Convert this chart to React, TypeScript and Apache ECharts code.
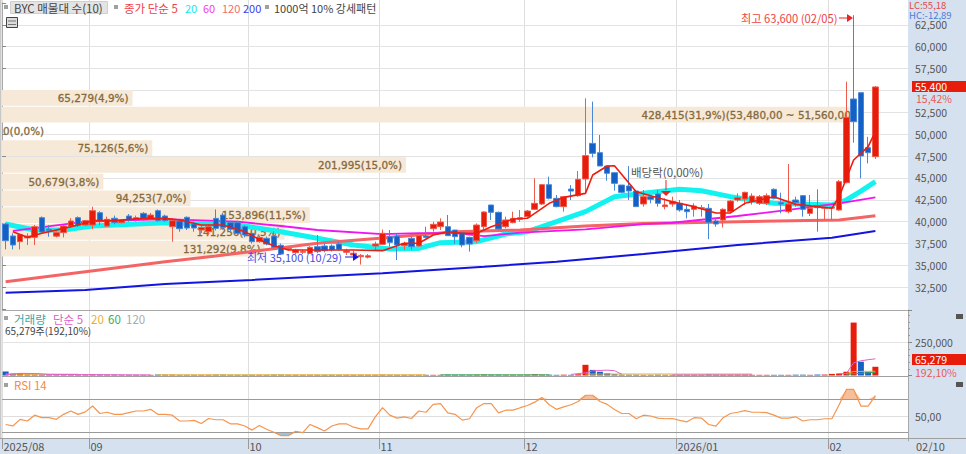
import React, { useEffect, useRef } from "react";
import * as echarts from "echarts";

const FONT = '"Noto Sans CJK KR", "Noto Sans", sans-serif';
const RED = "#e81c0a";
const BLUE = "#1560c4";
const PANEL = "#d6e1ef";

const candleOpen = [39740,38365,37720,38150,38210,40460,39150,38350,38750,39500,40460,39620,39620,41030,39500,40390,39890,40650,40270,40950,40380,41260,40650,39430,40080,40500,39740,39050,38860,40380,40760,39890,39890,39430,38670,37720,38100,38365,37300,36850,36460,36500,36384,37146,37220,37220,37450,36500,36200,36000,35950,37220,37410,38290,38365,37260,38100,37220,38365,39200,39430,39430,39050,38750,38210,37830,39430,41910,41070,39430,39890,40270,40575,41410,42020,44230,42670,41720,43730,42970,44880,48950,47890,46365,45600,44190,44080,43510,42023,42860,43166,41720,42020,42100,41413,41413,41500,41527,40079,40193,41146,42480,42595,42290,42100,42100,43698,42176,41146,42480,42975,40955,41832,41527,41550,41337,44461,54023,54747,48461,47432];
const candleClose = [37830,37340,38520,38350,39430,38820,39000,38750,39500,40080,39590,40120,41260,40000,40270,39890,40120,40200,40460,40380,40760,40120,40120,40120,39200,39280,39280,39350,39430,39240,39350,39130,38670,38480,37720,38210,37450,37070,36300,36950,36765,36600,37068,36574,36690,36770,36840,36650,36400,36150,36100,37450,38670,37640,37340,37530,37150,38400,38210,39700,39960,38400,38290,37340,37450,39620,41110,41070,39170,40195,40380,40460,41220,42100,44230,42670,41720,42860,43500,44840,47550,47813,46365,45530,44384,43355,43510,41720,42860,42555,42100,41910,42290,41340,41147,41793,41600,39927,39737,41413,42366,42747,43356,42937,42860,42975,42670,42023,42023,42176,41413,41527,41604,41642,41630,44575,51927,51432,47508,47889,55400];
const candleLow = [36840,36840,36840,37340,37340,38670,38290,38200,38210,39350,39400,39500,39130,39620,39400,39700,39800,40000,40000,40100,40200,40000,40000,37720,38860,39050,38860,38700,38500,39000,39100,38900,38500,38200,37500,37600,37300,36950,36200,36700,36300,36300,36300,36400,36500,36600,36700,36200,35800,35100,35800,36700,37340,37150,35620,36770,36770,37150,38100,38860,39050,38400,37450,37070,36580,37600,39050,40195,39050,39240,39810,40000,40380,41340,41910,42550,41640,41150,42480,42860,43240,47350,46365,44690,43545,43240,42480,41720,41720,42100,41720,41410,41720,41147,40380,40580,40580,38000,39430,39330,40960,42290,41910,41950,41910,41910,42550,40960,40960,41720,40580,40650,38860,40200,40200,41260,44380,49032,44950,46670,47170];
const candleHigh = [39900,38670,38600,38670,39620,40600,39620,38900,39620,40400,40600,40200,41720,41200,40575,40700,40300,40880,40700,41100,41000,41400,40800,40400,40200,40600,40000,39600,39700,41400,41000,40100,40100,39600,39000,38400,38300,38900,37500,37050,36900,36800,37200,38480,37500,37400,37700,36900,36700,36300,36300,37720,39100,39050,38670,37720,38290,38480,39430,40000,40380,40770,39050,38860,38290,39810,41180,41910,41150,40575,41150,41340,41340,44960,44310,45150,43050,42940,44190,45790,54100,53720,49910,46365,45600,44190,46360,43510,43620,43050,43620,42670,42860,42480,41910,42100,41910,42020,40380,41530,42480,43240,43430,43240,43050,43240,43810,43320,46590,42860,43050,43050,43700,41720,41720,44760,55998,63600,54747,49700,55500];

const ma5 = [[1,38860],[3,38210],[5,38670],[8,39240],[10,39620],[12,40120],[15,40120],[19,40380],[22,40380],[24,40190],[27,39620],[30,39620],[33,38860],[36,37530],[39,36765],[43,36770],[48,36770],[52,36690],[55,37530],[57,37530],[59,38480],[61,38860],[63,38670],[65,38670],[67,39430],[70,40310],[72,40390],[75,42100],[77,42780],[80,43240],[81,45340],[83,46370],[84,46400],[87,43430],[92,42285],[95,41720],[98,41000],[100,41000],[102,42100],[106,42860],[109,41980],[114,41530],[115,42860],[117,47050],[119,48570],[120,50290]];
const ma20 = [[0,39740],[4,39050],[8,39050],[12,39510],[22,39880],[32,39620],[38,38860],[43,38100],[48,37340],[53,36880],[57,36950],[60,37600],[65,37720],[69,38590],[72,38860],[76,40000],[80,41150],[84,42860],[88,43240],[93,43700],[96,43540],[100,42860],[106,42100],[114,41910],[116,42480],[118,43500],[120,44570]];
const ma60 = [[1,38940],[11,40000],[22,40300],[32,40000],[38,39510],[43,39050],[52,38590],[57,38700],[62,38700],[66,38360],[71,38740],[80,39130],[88,39730],[92,39880],[101,40650],[108,41340],[115,42100],[120,42780]];
const ma120 = [[0,33140],[11,34290],[22,35430],[29,36080],[43,37550],[52,38130],[62,38860],[71,39050],[80,39500],[88,39800],[101,40000],[115,40190],[120,40690]];
const ma200 = [[0,31885],[11,32190],[22,32880],[34,33340],[43,33750],[52,34100],[66,34860],[76,35430],[88,36310],[101,37340],[114,38170],[120,38940]];

const bandVolumes = [65279,428415,0,75126,201995,50679,94253,153896,141256,131292];
const bandTops = [55050,53136,51222,49308,47394,45480,43566,41652,39738,37824];
const bandBottoms = [53250,51336,49422,47508,45594,43680,41766,39852,37938,36024];
const bandLabels = ["65,279(4,9%)","428,415(31,9%)(53,480,00 ~ 51,560,00)","0(0,0%)","75,126(5,6%)","201,995(15,0%)","50,679(3,8%)","94,253(7,0%)","153,896(11,5%)","141,256(10,5%)","131,292(9,8%)"];

const volumes = [30000,14000,13000,8000,7000,7000,6000,6000,7000,7000,6000,6000,8000,7000,6000,6000,5000,5000,5000,5000,5000,7000,6000,6000,5000,5000,5000,5000,5000,6000,6000,5000,5000,5000,5000,5000,5000,6000,6000,5000,5000,5000,5000,5000,5000,5000,5000,5000,5000,5000,5000,5000,6000,5000,5000,5000,5000,5000,5000,5000,5000,6000,5000,5000,5000,6000,7000,6000,6000,5000,5000,5000,6000,9000,6000,6000,5000,6000,5000,9000,80000,42000,28000,16000,9000,6000,6000,6000,5000,5000,6000,5000,5000,5000,5000,5000,5000,8000,6000,6000,6000,6000,6000,5000,5000,5000,5000,5000,5000,6000,6000,5000,7000,7000,12000,15000,28000,396000,103000,28000,65279];
const redVolumeDays = [117];
const volMa5 = [[0,6000],[2,16000],[4,15000],[6,8000],[20,4000],[21,null],[78,8000],[80,20000],[81,35000],[83,40000],[84,36000],[85,10000],[86,null],[92,4000],[103,4000],[104,null],[115,12000],[116,15000],[117,95000],[118,110000],[119,118000],[120,125000]];
const volMa20 = [[0,10000],[10,10000],[11,null],[21,5000],[58,5000],[59,null],[80,11000],[103,11000],[104,null],[116,14000],[117,30000],[120,32000]];
const volMa60 = [[60,5000],[75,5000],[76,null],[116,9000],[120,24000]];

const rsi14 = [39.8,38,46,44,51,48,48,46,52,56,52,55,62,53,54.5,52,52,54,56,56,58,52,52,51,44,44,44.7,41,47,45.5,45.5,40.6,40.6,38,33,38.6,34,30.4,26.3,26.3,31.6,30,39.8,36,32,38,40.6,40.6,36.5,34.5,34.5,49,60,51,47.5,49,47,56,54.5,64,65,53.7,52,45,46.7,60,65,65,53.7,57,57,60,62.6,66.7,72.4,63.5,58,61,63.5,67.5,75,75,67.5,64,57.8,53,53,46.7,51,50,47.5,46.7,47,44.7,43,48,47.5,39.8,37.8,48,53,54.5,56.5,54.5,54.5,54,51,47.5,47.5,49,44,45.5,45.5,46.7,46.7,63.5,82,82,62,62,74.5];

const monthStarts = [0,12,34,52,72,93,114];
const monthLabels = ["2025/08","09","10","11","12","2026/01","02"];
const priceTicksShown = [32500,35000,37500,40000,42500,45000,47500,50000,52500,57500,60000,62500];
const CATEGORY_COUNT = 125;
const categories = Array.from({ length: CATEGORY_COUNT }, (_, i) => String(i));

const fmt = (v: number) => v.toLocaleString("en-US");

function txt(text: string, x: number, y: number, fill: string, size = 11) {
  return { type: "text", x, y, silent: true, style: { text, fill, font: `${size}px ${FONT}`, textVerticalAlign: "middle", textBaseline: "middle" } };
}
function rect(x: number, y: number, w: number, h: number, fill: string, stroke?: string) {
  return { type: "rect", silent: true, shape: { x, y, width: w, height: h }, style: { fill, stroke } };
}
function hline(y: number, x1: number, x2: number, stroke: string, w = 1) {
  return { type: "line", silent: true, shape: { x1, y1: y, x2, y2: y }, style: { stroke, lineWidth: w } };
}
function arrowRight(x: number, y: number, color: string) {
  return [
    { type: "line", silent: true, shape: { x1: x, y1: y, x2: x + 9, y2: y }, style: { stroke: color, lineWidth: 1 } },
    { type: "polygon", silent: true, shape: { points: [[x + 8, y - 4], [x + 14, y], [x + 8, y + 4]] }, style: { fill: color } },
  ];
}

function buildOption(): any {
  const frontElements: any[] = [
    hline(310.5, 2, 908, "#a8a8a8"),
    hline(376.5, 2, 908, "#a0a0a0"),
    hline(438.5, 0, 966, "#a0a0a0"),
    txt("LC:55,18", 909, 5, "#e04848", 9.5),
    txt("HC:-12,89", 909, 14.5, "#4a7cd8", 9.5),
    rect(912, 81, 54, 11, RED),
    txt("55,400", 915, 86.5, "#ffffff", 10.5),
    txt("15,42%", 916, 98.5, "#e85a5a", 10.5),
    rect(912, 354, 54, 11, RED),
    txt("65,279", 915, 359.5, "#ffffff", 10.5),
    txt("192,10%", 915, 372, "#e85a5a", 10.5),
    txt("02/10", 916, 446, "#555", 11),
    rect(956, 314, 7, 5, "#555"),
    rect(956, 382, 7, 5, "#555"),
    rect(10.5, 1.5, 97, 12, "#e4e4e4", "#cfcfcf"),
    rect(4, 5, 4, 4, "#a0a0a0"),
    txt("BYC 매물대 수(10)", 14, 7.5, "#444", 11.5),
    rect(114, 5, 4, 4, "#a0a0a0"),
    txt("종가 단순 5", 124, 7.5, "#f0414a", 11.5),
    txt("20", 185, 7.5, "#19e6f0", 11),
    txt("60", 203, 7.5, "#f03cf0", 11),
    txt("120", 222, 7.5, "#f56a6a", 11),
    txt("200", 243, 7.5, "#3c3cf0", 11),
    rect(265, 5, 4, 4, "#a0a0a0"),
    txt("1000억 10% 강세패턴", 274, 7.5, "#444", 11),
    rect(6.5, 17.5, 11, 10, "#dcdcdc", "#444"),
    hline(21, 8, 16, "#777"),
    hline(24.5, 8, 16, "#777"),
    txt("최고 63,600 (02/05)", 741, 17.5, "#ee4444", 11.2),
    ...arrowRight(839, 18, "#ee2222"),
    txt("최저 35,100 (10/29)", 247, 257, "#4a4ae6", 11),
    ...arrowRight(345, 257, "#1818e6"),
    txt("배당락(0,00%)", 631, 172, "#555", 11.5),
    { type: "line", silent: true, shape: { x1: 666, y1: 180, x2: 666, y2: 190 }, style: { stroke: "#ee2222", lineWidth: 1 } },
    { type: "polygon", silent: true, shape: { points: [[661, 191], [671, 191], [666, 196]] }, style: { fill: "#ee2222" } },
    rect(4, 316, 4, 4, "#a0a0a0"),
    txt("거래량", 14, 318.5, "#3aa6a6", 11.5),
    txt("단순 5", 53, 318.5, "#e060c8", 11.5),
    txt("20", 91, 318.5, "#e6b034", 11.5),
    txt("60", 108, 318.5, "#3aaa5a", 11.5),
    txt("120", 126, 318.5, "#aaaaaa", 11.5),
    txt("65,279주(192,10%)", 5, 330.5, "#444", 10),
    rect(4, 383, 4, 4, "#a0a0a0"),
    txt("RSI 14", 14, 385, "#f58a3c", 11.5),
  ].map((el: any) => ({ ...el, z: 100 }));

  const grids = [
    { left: 2, width: 906, top: 2.95, height: 306.25 },
    { left: 2, width: 906, top: 310, height: 65.5 },
    { left: 2, width: 906, top: 374.5, height: 66.4 },
  ];
  const catAxis = (gridIndex: number) => ({
    type: "category", gridIndex, data: categories, boundaryGap: true,
    axisLine: { show: false }, axisTick: { show: false }, axisLabel: { show: false }, splitLine: { show: false },
  });
  const rightLabel = { color: "#555", fontFamily: FONT, fontSize: 10.5, margin: 7 };

  const candleData = candleOpen.map((o, i) => [o, candleClose[i], candleLow[i], candleHigh[i]]);
  const line = (name: string, data: any, color: string, width: number, z: number, x = 0, y = 0) => ({
    name, type: "line", xAxisIndex: x, yAxisIndex: y, data, symbol: "none", smooth: false, z,
    lineStyle: { color, width }, silent: true,
  });

  const bandSeries = {
    name: "매물대", type: "custom", xAxisIndex: 1, yAxisIndex: 0, z: 1, silent: true, clip: false,
    data: bandVolumes.map((v, i) => [v, bandTops[i], bandBottoms[i]]),
    encode: { x: 0, y: [1, 2] },
    renderItem: (params: any, api: any) => {
      const [x1, y1] = api.coord([api.value(0), api.value(1)]);
      const [x0, y2] = api.coord([0, api.value(2)]);
      const hasBar = api.value(0) > 0;
      return {
        type: "group",
        children: [
          { type: "rect", shape: { x: x0, y: y1, width: x1 - x0, height: y2 - y1 }, style: { fill: "#f6e9d8" } },
          { type: "text", style: { x: hasBar ? x1 - 4 : x0 + 1, y: (y1 + y2) / 2, text: bandLabels[params.dataIndex], fill: "#86693c", stroke: "#86693c", lineWidth: 0.3, font: `10.4px "DejaVu Sans", sans-serif`, textAlign: hasBar ? "right" : "left", textVerticalAlign: "middle", textBaseline: "middle" } },
        ],
      };
    },
  };

  const monthSeries = {
    name: "months", type: "custom", xAxisIndex: 3, yAxisIndex: 2, z: -1, silent: true, clip: false,
    data: monthStarts.map((m) => [m, 50]),
    encode: { x: 0, y: 1 },
    renderItem: (params: any, api: any) => {
      const band = api.size([1, 0])[0];
      const x = Math.round(api.coord([api.value(0), 50])[0] - band / 2) + 0.5;
      return {
        type: "group",
        children: [
          { type: "line", shape: { x1: x, y1: 0, x2: x, y2: 438 }, style: { stroke: "#dedede", lineWidth: 1 } },
          { type: "line", shape: { x1: x, y1: 438, x2: x, y2: 449 }, style: { stroke: "#9a9a9a", lineWidth: 1 } },
          { type: "text", style: { x: x + 1, y: 446, text: monthLabels[params.dataIndex], fill: "#555", font: `11px ${FONT}`, textVerticalAlign: "middle", textBaseline: "middle" } },
        ],
      };
    },
  };

  return {
    animation: false,
    backgroundColor: "transparent",
    graphic: { z: 100, elements: frontElements },
    grid: grids,
    xAxis: [
      catAxis(0),
      { type: "value", gridIndex: 0, min: 0, max: 453000, show: false },
      catAxis(1),
      catAxis(2),
    ],
    yAxis: [
      {
        type: "value", gridIndex: 0, position: "right", min: 30000, max: 65000, interval: 2500,
        axisLine: { show: true, lineStyle: { color: "#a8a8a8" } },
        axisTick: { show: true, length: 4, lineStyle: { color: "#888" } },
        axisLabel: { ...rightLabel, formatter: (v: number) => (priceTicksShown.includes(v) ? fmt(v) : "") },
        splitLine: { show: true, showMinLine: false, showMaxLine: false, lineStyle: { color: "#e3e3e3", width: 1 } },
      },
      {
        type: "value", gridIndex: 1, position: "right", min: 0, max: 490000, interval: 250000,
        axisLine: { show: true, lineStyle: { color: "#a8a8a8" } },
        axisTick: { show: true, length: 4, lineStyle: { color: "#888" } },
        minorTick: { show: true, splitNumber: 5, length: 2, lineStyle: { color: "#999" } },
        axisLabel: { ...rightLabel, formatter: (v: number) => (v === 250000 ? fmt(v) : "") },
        splitLine: { show: true, showMinLine: false, showMaxLine: false, lineStyle: { color: "#e3e3e3", width: 1 } },
      },
      {
        type: "value", gridIndex: 2, position: "right", min: 20, max: 100, interval: 10,
        axisLine: { show: true, lineStyle: { color: "#a8a8a8" } },
        axisTick: { show: false },
        axisLabel: { ...rightLabel, formatter: (v: number) => (v === 50 ? "50,00" : "") },
        splitLine: { show: false },
      },
    ],
    series: [
      monthSeries,
      bandSeries,
      line("20", ma20, "#12f2ee", 5, 2),
      line("120", ma120, "#f56464", 3, 3),
      line("60", ma60, "#f015f0", 1.8, 3),
      line("200", ma200, "#1414e0", 2, 3),
      {
        name: "BYC", type: "candlestick", xAxisIndex: 0, yAxisIndex: 0, data: candleData, barWidth: 6, z: 4, silent: true,
        itemStyle: { color: RED, color0: BLUE, borderColor: "#ee5a4c", borderColor0: "#4a86d6", borderWidth: 1 },
      },
      line("5", ma5, "#ee1c10", 1.6, 6),
      {
        name: "거래량", type: "bar", xAxisIndex: 2, yAxisIndex: 1, barWidth: 6, z: 3, silent: true,
        data: volumes.map((v, i) => ({
          value: v,
          itemStyle: { color: candleClose[i] >= candleOpen[i] || redVolumeDays.includes(i) ? RED : BLUE },
        })),
      },
      line("v5", volMa5, "#e060c8", 1, 5, 2, 1),
      line("v20", volMa20, "#e6b034", 1, 4, 2, 1),
      line("v60", volMa60, "#3aaa5a", 1, 4, 2, 1),
      {
        ...line("RSI", rsi14, "#f5954e", 1.2, 5, 3, 2),
        markLine: {
          silent: true, symbol: "none", label: { show: false }, animation: false,
          data: [
            { yAxis: 70, lineStyle: { color: "#9a9a9a", width: 1, type: "solid" } },
            { yAxis: 50, lineStyle: { color: "#dedede", width: 1, type: "solid" } },
            { yAxis: 30, lineStyle: { color: "#9a9a9a", width: 1, type: "solid" } },
          ],
        },
      },
      {
        name: "over", type: "line", xAxisIndex: 3, yAxisIndex: 2, symbol: "none", silent: true, z: 3,
        data: rsi14.map((v) => Math.max(v, 70)), lineStyle: { width: 0 },
        areaStyle: { origin: 70, color: "#f5b48a", opacity: 0.85 },
      },
      {
        name: "under", type: "line", xAxisIndex: 3, yAxisIndex: 2, symbol: "none", silent: true, z: 3,
        data: rsi14.map((v) => Math.min(v, 30)), lineStyle: { width: 0 },
        areaStyle: { origin: 30, color: "#8ab4d0", opacity: 0.8 },
      },
    ],
  };
}

const pageBackground = [
  `linear-gradient(#c8c8c8,#c8c8c8) 0 0/1.5px 438px no-repeat`,
  `linear-gradient(${PANEL},${PANEL}) 908px 0/58px 454px no-repeat`,
  `linear-gradient(${PANEL},${PANEL}) 0 438px/966px 16px no-repeat`,
  `#ffffff`,
].join(",");

export default function App() {
  const ref = useRef<HTMLDivElement>(null);
  useEffect(() => {
    document.body.style.margin = "0";
    const chart = echarts.init(ref.current!, undefined, { renderer: "svg" });
    chart.setOption(buildOption());
    return () => chart.dispose();
  }, []);
  return <div ref={ref} style={{ width: 966, height: 454, background: pageBackground }} />;
}
